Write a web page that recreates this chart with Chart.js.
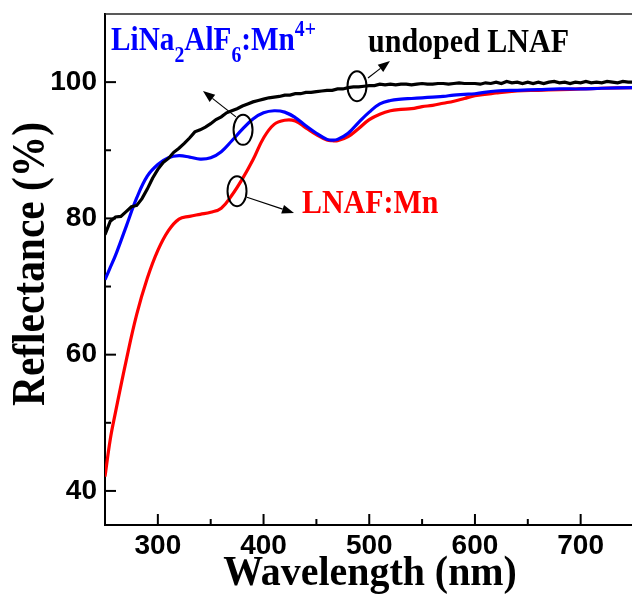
<!DOCTYPE html>
<html>
<head>
<meta charset="utf-8">
<script src="https://cdn.jsdelivr.net/npm/chart.js@4.4.1/dist/chart.umd.min.js"></script>
<style>
  html, body { margin: 0; padding: 0; background: #fff; overflow: hidden; width: 632px; height: 596px; }
  canvas { display: block; }
</style>
</head>
<body>
<canvas id="c" width="640" height="596"></canvas>
<script>
// Diffuse reflectance spectra (%), wavelength in nm
const wavelengthsUndoped = [
  250,255,260,265,270,275,280,285,290,295,300,305,310,315,320,325,330,335,340,345,
  350,355,360,365,370,375,380,385,390,395,400,405,410,415,420,425,430,435,440,445,
  450,455,460,465,470,475,480,485,490,495,500,505,510,515,520,525,530,535,540,545,
  550,555,560,565,570,575,580,585,590,595,600,605,610,615,620,625,630,635,640,645,
  650,655,660,665,670,675,680,685,690,695,700,705,710,715,720,725,730,735,740,745,750
];
const reflectanceUndoped = [
  77.6,79.6,80.2,80.3,81.0,81.7,81.9,82.9,84.3,85.9,87.2,88.2,88.8,89.7,90.3,91.0,91.8,92.7,93.0,93.4,
  93.9,94.5,94.9,95.5,95.8,96.1,96.5,96.8,97.1,97.3,97.5,97.7,97.8,97.9,98.1,98.1,98.3,98.3,98.5,98.5,
  98.6,98.7,98.8,98.8,99.0,99.0,99.2,99.3,99.3,99.4,99.5,99.5,99.7,99.6,99.7,99.6,99.7,99.7,99.6,99.7,
  99.8,99.7,99.7,99.8,99.8,99.7,99.8,99.9,99.8,99.8,99.8,99.7,99.9,99.8,100.0,99.8,100.1,99.9,100.0,99.8,
  100.0,99.8,100.0,99.8,100.0,100.1,99.9,100.0,99.8,100.0,99.9,100.1,99.9,100.0,99.9,100.1,100.0,99.9,100.1,100.0,100.0
];

const wavelengthsDoped = [
  250,255,260,270,280,290,300,310,320,330,340,350,360,370,380,390,400,410,420,430,
  440,450,460,465,470,480,490,500,510,520,530,540,550,560,570,580,590,600,620,640,
  660,680,700,720,750
];
const reflectanceLiNa2AlF6Mn = [
  71.0,72.8,74.6,78.8,83.0,86.2,87.9,88.9,89.2,89.0,88.7,88.9,89.8,91.4,93.1,94.6,95.5,95.8,95.6,94.8,
  93.6,92.5,91.6,91.5,91.6,92.5,94.1,95.6,96.8,97.3,97.5,97.6,97.7,97.8,97.9,98.1,98.2,98.3,98.7,98.8,
  98.9,99.0,99.0,99.1,99.2
];
const reflectanceLNAFMn = [
  42.1,47.6,51.6,59.1,65.9,71.2,75.3,78.2,79.9,80.3,80.6,80.9,81.5,83.4,85.8,88.6,91.8,93.8,94.4,94.3,
  93.3,92.3,91.5,91.4,91.4,92.0,93.2,94.5,95.3,95.8,96.0,96.1,96.4,96.6,96.9,97.2,97.6,98.0,98.4,98.7,
  98.8,98.9,99.0,99.1,99.2
];

const xTickValues = [300, 400, 500, 600, 700];
const xMinorTickValues = [350, 450, 550, 650];
const yTickValues = [40, 60, 80, 100];
const yMinorTickValues = [50, 70, 90];

const toPoints = (xs, ys) => xs.map((v, i) => ({ x: v, y: ys[i] }));

const SERIF = '"Liberation Serif", "Times New Roman", serif';

function drawText(ctx, s, x, y, size, color, sx) {
  ctx.save();
  ctx.translate(x, y);
  ctx.scale(sx, 1);
  ctx.font = `bold ${size}px ${SERIF}`;
  ctx.fillStyle = color;
  ctx.textBaseline = 'alphabetic';
  ctx.textAlign = 'left';
  ctx.fillText(s, 0, 0);
  const w = ctx.measureText(s).width * sx;
  ctx.restore();
  return w;
}

function arrow(ctx, x1, y1, x2, y2) {
  const ang = Math.atan2(y2 - y1, x2 - x1);
  const L = 12, H = 4.5;
  const bx = x2 - L * Math.cos(ang), by = y2 - L * Math.sin(ang);
  ctx.beginPath();
  ctx.moveTo(x1, y1);
  ctx.lineTo(bx, by);
  ctx.stroke();
  ctx.beginPath();
  ctx.moveTo(x2, y2);
  ctx.lineTo(bx + H * Math.sin(ang), by - H * Math.cos(ang));
  ctx.lineTo(bx - H * Math.sin(ang), by + H * Math.cos(ang));
  ctx.closePath();
  ctx.fill();
}

const decor = {
  id: 'decor',
  afterDraw(chart) {
    const { ctx, chartArea: a, scales: { x, y } } = chart;
    ctx.save();
    // frame top edge
    ctx.strokeStyle = '#222';
    ctx.lineWidth = 1.6;
    ctx.beginPath();
    ctx.moveTo(a.left, a.top);
    ctx.lineTo(a.right + 10, a.top);
    ctx.stroke();

    // inward tick marks
    ctx.strokeStyle = '#000';
    ctx.lineWidth = 2;
    const yTick = (v, len) => {
      const p = y.getPixelForValue(v);
      ctx.beginPath(); ctx.moveTo(a.left, p); ctx.lineTo(a.left + len, p); ctx.stroke();
    };
    const xTick = (v, len) => {
      const p = x.getPixelForValue(v);
      ctx.beginPath(); ctx.moveTo(p, a.bottom); ctx.lineTo(p, a.bottom - len); ctx.stroke();
    };
    yTickValues.forEach(v => yTick(v, 11));
    yMinorTickValues.forEach(v => yTick(v, 6));
    xTickValues.forEach(v => xTick(v, 11));
    xMinorTickValues.forEach(v => xTick(v, 6));

    // circled marks with arrows pointing at the labels
    ctx.strokeStyle = '#000';
    ctx.fillStyle = '#000';
    const P = (vx, vy) => [x.getPixelForValue(vx), y.getPixelForValue(vy)];
    const ring = (vx, vy) => {
      const [cx, cy] = P(vx, vy);
      ctx.lineWidth = 2;
      ctx.beginPath(); ctx.ellipse(cx, cy, 9.5, 15, 0, 0, Math.PI * 2); ctx.stroke();
    };
    ring(488.4, 99.4);
    ring(380.6, 93.0);
    ring(374.9, 84.0);
    ctx.lineWidth = 1.2;
    arrow(ctx, ...P(498.8, 100.6), ...P(519.6, 103.1));
    arrow(ctx, ...P(373.9, 94.9), ...P(342.7, 98.7));
    arrow(ctx, ...P(384.3, 83.1), ...P(428.8, 80.8));

    // series labels
    const blue = '#0000ff';
    let [bx, by] = P(255.7, 104.7);
    const main = 34, small = 23, sx = 0.86;
    bx += drawText(ctx, 'LiNa', bx, by, main, blue, sx);
    bx += drawText(ctx, '2', bx, by + 12, small, blue, sx);
    bx += drawText(ctx, 'AlF', bx, by, main, blue, sx);
    bx += drawText(ctx, '6', bx, by + 12, small, blue, sx);
    bx += drawText(ctx, ':Mn', bx, by, main, blue, sx);
    drawText(ctx, '4+', bx, by - 14, small, blue, sx);

    const [ux, uy] = P(498.8, 104.4);
    drawText(ctx, 'undoped LNAF', ux, uy, 33, '#000', 0.91);
    const [rx, ry] = P(436.4, 80.8);
    drawText(ctx, 'LNAF:Mn', rx, ry, 34, '#ff0000', 0.88);

    // axis titles
    ctx.fillStyle = '#000';
    ctx.font = `bold 42px ${SERIF}`;
    ctx.textAlign = 'center';
    ctx.textBaseline = 'alphabetic';
    ctx.save();
    ctx.translate(370, 585);
    ctx.scale(0.95, 1);
    ctx.fillText('Wavelength (nm)', 0, 0);
    ctx.restore();

    ctx.save();
    ctx.font = `bold 46px ${SERIF}`;
    ctx.translate(44, 264);
    ctx.rotate(-Math.PI / 2);
    ctx.scale(0.9, 1);
    ctx.fillText('Reflectance (%)', 0, 0);
    ctx.restore();

    ctx.restore();
  }
};

const tickFont = { family: '"Liberation Sans", Arial, sans-serif', size: 28, weight: 'bold' };

new Chart(document.getElementById('c'), {
  type: 'line',
  data: {
    datasets: [
      { label: 'undoped LNAF', data: toPoints(wavelengthsUndoped, reflectanceUndoped),
        borderColor: '#000000', borderWidth: 3.2, pointRadius: 0, tension: 0, fill: false },
      { label: 'LiNa2AlF6:Mn4+', data: toPoints(wavelengthsDoped, reflectanceLiNa2AlF6Mn),
        borderColor: '#0000ff', borderWidth: 3.2, pointRadius: 0, tension: 0.4, fill: false },
      { label: 'LNAF:Mn', data: toPoints(wavelengthsDoped, reflectanceLNAFMn),
        borderColor: '#ff0000', borderWidth: 3.2, pointRadius: 0, tension: 0.4, fill: false }
    ]
  },
  options: {
    responsive: false,
    devicePixelRatio: 1,
    animation: false,
    layout: { padding: { top: 14, right: 6.5, left: 0, bottom: 0 } },
    plugins: { legend: { display: false }, tooltip: { enabled: false } },
    scales: {
      x: {
        type: 'linear', min: 250, max: 750,
        afterBuildTicks: s => { s.ticks = xTickValues.map(v => ({ value: v })); },
        afterFit: s => { s.height = 71; s.paddingLeft = 0; s.paddingRight = 0; },
        grid: { display: false, drawTicks: false, tickLength: 0 },
        border: { display: true, color: '#000', width: 2 },
        ticks: { color: '#000', font: tickFont, padding: 4, maxRotation: 0 }
      },
      y: {
        type: 'linear', min: 35, max: 110,
        afterBuildTicks: s => { s.ticks = yTickValues.map(v => ({ value: v })); },
        afterFit: s => { s.width = 105; s.paddingTop = 0; s.paddingBottom = 0; },
        grid: { display: false, drawTicks: false, tickLength: 0 },
        border: { display: true, color: '#000', width: 2 },
        ticks: { color: '#000', font: tickFont, padding: 8 }
      }
    }
  },
  plugins: [decor]
});
</script>
</body>
</html>
